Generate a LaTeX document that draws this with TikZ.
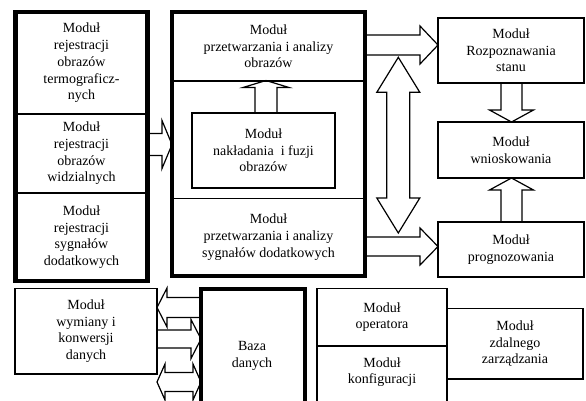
\documentclass[tikz,border=0pt]{standalone}
\usepackage{fontspec}
\setmainfont{Liberation Serif}
\usetikzlibrary{calc,backgrounds}
% single block arrow: start, tip, shaft half-width, head half-width, head length
\newcommand\sarrow[5]{%
  \coordinate (sab) at ($(#2)!#5!(#1)$);
  \draw[blk] ($(#1)!#3!90:(#2)$) -- ($(sab)!#3!-90:(#1)$) -- ($(sab)!#4!-90:(#1)$) -- (#2)
    -- ($(sab)!#4!90:(#1)$) -- ($(sab)!#3!90:(#1)$) -- ($(#1)!#3!-90:(#2)$) -- cycle;}
% double block arrow: tip1, tip2, shaft half-width, head half-width, head length
\newcommand\darrow[5]{%
  \coordinate (db1) at ($(#1)!#5!(#2)$);
  \coordinate (db2) at ($(#2)!#5!(#1)$);
  \draw[blk] (#1) -- ($(db1)!#4!90:(#2)$) -- ($(db1)!#3!90:(#2)$) -- ($(db2)!#3!-90:(#1)$)
    -- ($(db2)!#4!-90:(#1)$) -- (#2) -- ($(db2)!#4!90:(#1)$) -- ($(db2)!#3!90:(#1)$)
    -- ($(db1)!#3!-90:(#2)$) -- ($(db1)!#4!-90:(#2)$) -- cycle;}
\tikzset{
  txt/.style={align=center, font=\fontsize{14}{16.7}\selectfont, inner sep=0pt, outer sep=0pt},
  thinline/.style={line width=1.2pt},
  bigbox/.style={draw, line width=4.5pt, inner sep=0pt, outer sep=0pt},
  dbbox/.style={draw, line width=4pt, inner sep=0pt, outer sep=0pt},
  modbox/.style={draw, line width=1.2pt, txt},
  section/.style={txt},
  blk/.style={draw, fill=white, line width=1.2pt, line join=miter},
}
\begin{document}
\begin{tikzpicture}[x=1pt,y=-1pt]
\useasboundingbox (0,0) rectangle (586,400);

% left column
\node[bigbox, minimum width=132pt, minimum height=269pt] (LB) at (81.5,146.5) {};
\node[section, minimum width=132pt, minimum height=102pt] (L1) at (81.5,63)
  {Moduł\\rejestracji\\obrazów\\termograficz-\\nych};
\node[section, minimum width=132pt, minimum height=79pt] (L2) at (81.5,153.5)
  {Moduł\\rejestracji\\obrazów\\widzialnych};
\node[section, minimum width=132pt, minimum height=88pt] (L3) at (81.5,237)
  {Moduł\\rejestracji\\sygnałów\\dodatkowych};
\draw[thinline] (L1.south west) -- (L1.south east);
\draw[thinline] (L2.south west) -- (L2.south east);

% middle column
\node[bigbox, minimum width=193pt, minimum height=264pt] (M) at (268.5,144) {};
\node[section, minimum width=193pt, minimum height=68pt] (M1) at (268.5,46.5)
  {Moduł\\przetwarzania i analizy\\obrazów};
\node[section, minimum width=193pt, minimum height=77pt] (M3) at (268.5,237)
  {Moduł\\przetwarzania i analizy\\sygnałów dodatkowych};
\draw[thinline] ([yshift=-0.5pt]M1.south west) -- ([yshift=-0.5pt]M1.south east);
\draw[thinline] (M3.north west) -- (M3.north east);
\node[modbox, minimum width=143pt, minimum height=75pt] (F) at (263.5,150.5)
  {Moduł\\nakładania\ \ i fuzji\\obrazów};

% right column
\node[modbox, minimum width=146pt, minimum height=65pt] (R1) at (511,50.5)
  {Moduł\\Rozpoznawania\\stanu};
\node[modbox, minimum width=146pt, minimum height=56pt] (R2) at (511,150)
  {Moduł\\wnioskowania};
\node[modbox, minimum width=146pt, minimum height=55pt] (R3) at (511,249.5)
  {Moduł\\prognozowania};

% bottom row
\node[modbox, minimum width=142pt, minimum height=85.5pt] (W) at (86,331.25)
  {Moduł\\wymiany i\\konwersji\\danych};
\node[dbbox, minimum width=104pt, minimum height=151.5pt] (B) at (253,364.25) {};
\node[txt] (BT) at (252,356) {Baza\\danych};
\node[modbox, minimum width=130pt, minimum height=57.5pt] (O) at (382,317.25)
  {Moduł\\operatora};
\node[modbox, minimum width=130pt, minimum height=94pt] (K) at (382,393) {};
\node[txt] (KT) at (382,372) {Moduł\\konfiguracji};
\node[modbox, minimum width=136pt, minimum height=70.5pt] (Z) at (515,343.75)
  {Moduł\\zdalnego\\zarządzania};

\begin{pgfonlayer}{background}
\fill[white] (0,0) rectangle (586,400);
% left -> middle
\coordinate (a1s) at (LB.east |- 0,144.5);
\coordinate (a1t) at (M.west |- 0,144.5);
\sarrow{a1s}{a1t}{11pt}{24pt}{10pt}
% fusion -> image analysis
\coordinate (a2s) at (266,0 |- F.north);
\coordinate (a2t) at (266,0 |- M1.south);
\sarrow{a2s}{a2t}{11pt}{23pt}{7pt}
% middle -> recognition
\coordinate (a3s) at (M.east |- 0,45);
\coordinate (a3t) at (R1.west |- 0,45);
\sarrow{a3s}{a3t}{10pt}{19pt}{18pt}
% middle -> prognosis
\coordinate (a4s) at (M.east |- 0,246.5);
\coordinate (a4t) at (R3.west |- 0,246.5);
\sarrow{a4s}{a4t}{9.5pt}{18.5pt}{18pt}
% vertical double arrow
\coordinate (d1a) at (398.3,57.3);
\coordinate (d1b) at (398.3,233);
\darrow{d1a}{d1b}{11.5pt}{21.5pt}{35pt}
% recognition -> inference
\coordinate (a5s) at (511.5,0 |- R1.south);
\coordinate (a5t) at (511.5,0 |- R2.north);
\sarrow{a5s}{a5t}{10.5pt}{22pt}{12pt}
% prognosis -> inference
\coordinate (a6s) at (511.5,0 |- R3.north);
\coordinate (a6t) at (511.5,0 |- R2.south);
\sarrow{a6s}{a6t}{10.5pt}{22pt}{12pt}
% database <-> exchange
\coordinate (b1s) at (B.west |- 0,307.5);
\coordinate (b1t) at (W.east |- 0,307.5);
\sarrow{b1s}{b1t}{10pt}{19.5pt}{10pt}
\coordinate (b2s) at (W.east |- 0,339);
\coordinate (b2t) at (B.west |- 0,339);
\sarrow{b2s}{b2t}{9pt}{19.5pt}{10pt}
\coordinate (b3a) at (W.east |- 0,382);
\coordinate (b3b) at (B.west |- 0,382);
\darrow{b3a}{b3b}{9.5pt}{18pt}{8pt}
\end{pgfonlayer}
\end{tikzpicture}
\end{document}
